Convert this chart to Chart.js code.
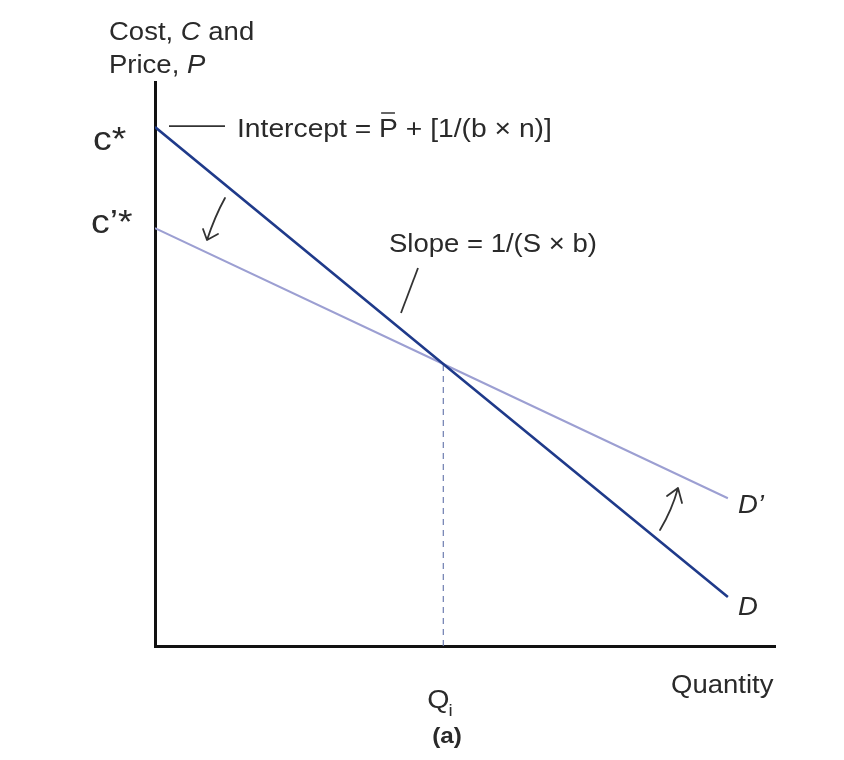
<!DOCTYPE html>
<html>
<head>
<meta charset="utf-8">
<script src="https://cdn.jsdelivr.net/npm/chart.js@4.4.1/dist/chart.umd.min.js"></script>
<style>
  html, body { margin: 0; padding: 0; background: #fff; }
</style>
</head>
<body>
<canvas id="chart" width="844" height="760"></canvas>
<script>
// quantities along the x axis (0-100 scale) and the two demand lines
const quantities = [0, 46.5, 92.4];
const demandD = [92, 50, 8.7];
const demandDPrime = [74.1, 50, 26.2];
const qiLine = [{ x: 46.5, y: 0 }, { x: 46.5, y: 50 }];
const seriesNames = ["D", "D’"];

const STRETCH = 1.1;
const SANS = "'Liberation Sans', Arial, sans-serif";

function drawRuns(ctx, parts, x, y) {
    // parts: [{t, font}] drawn one after the other
    let cx = x;
    parts.forEach(p => {
        ctx.save();
        ctx.font = p.font;
        const w = ctx.measureText(p.t).width * (p.sx || STRETCH);
        ctx.translate(cx, y);
        ctx.scale(p.sx || STRETCH, 1);
        ctx.fillText(p.t, 0, 0);
        ctx.restore();
        p.x0 = cx;
        p.w = w;
        cx += w;
    });
    return cx;
}

function arrow(ctx, sx, sy, cx, cy, ex, ey, b1, b2) {
    ctx.beginPath();
    ctx.moveTo(sx, sy);
    ctx.quadraticCurveTo(cx, cy, ex, ey);
    ctx.moveTo(b1[0], b1[1]);
    ctx.lineTo(ex, ey);
    ctx.lineTo(b2[0], b2[1]);
    ctx.stroke();
}

const annotations = {
    id: "annotations",
    afterDatasetsDraw(chart) {
        const ctx = chart.ctx;
        const xs = chart.scales.x;
        const ys = chart.scales.y;
        ctx.save();
        ctx.fillStyle = "#2a2a2a";
        ctx.strokeStyle = "#333";
        ctx.textBaseline = "alphabetic";

        // y axis title
        const reg = "25px " + SANS;
        const ita = "italic 25px " + SANS;
        drawRuns(ctx, [{ t: "Cost, ", font: reg }, { t: "C", font: ita }, { t: " and", font: reg }], 109, 40);
        drawRuns(ctx, [{ t: "Price, ", font: reg }, { t: "P", font: ita }], 109, 73);

        // c* and c'* labels at the two intercepts
        const big = "34px " + SANS;
        const yD0 = ys.getPixelForValue(demandD[0]);
        const yDP0 = ys.getPixelForValue(demandDPrime[0]);
        drawRuns(ctx, [{ t: "c*", font: big }], 93, yD0 + 23);
        drawRuns(ctx, [{ t: "c’*", font: big }], 91, yDP0 + 5);

        // intercept leader and label
        ctx.lineWidth = 1.8;
        ctx.beginPath();
        ctx.moveTo(169, yD0 - 1);
        ctx.lineTo(225, yD0 - 1);
        ctx.stroke();
        const parts = [
            { t: "Intercept = ", font: reg, sx: 1.13 },
            { t: "P", font: reg, sx: 1.13 },
            { t: " + [1/(b × n)]", font: reg, sx: 1.13 }
        ];
        drawRuns(ctx, parts, 237, 137);
        ctx.lineWidth = 1.5;
        ctx.beginPath();
        ctx.moveTo(parts[1].x0 + 2, 113);
        ctx.lineTo(parts[1].x0 + parts[1].w - 3, 113);
        ctx.stroke();

        // slope label and leader
        drawRuns(ctx, [{ t: "Slope = 1/(S × b)", font: reg }], 389, 252);
        ctx.lineWidth = 1.8;
        ctx.beginPath();
        ctx.moveTo(418, 268);
        ctx.lineTo(401, 313);
        ctx.stroke();

        // rotation arrows
        ctx.lineWidth = 1.8;
        ctx.lineCap = "round";
        ctx.lineJoin = "round";
        arrow(ctx, 225, 198, 215, 216, 207, 240, [203, 229], [218, 234]);
        arrow(ctx, 660, 530, 672, 510, 678, 488, [667, 496], [682, 503]);

        // series labels at the line ends
        const n = quantities.length - 1;
        const xe = xs.getPixelForValue(quantities[n]);
        drawRuns(ctx, [{ t: seriesNames[1], font: ita }], xe + 10, ys.getPixelForValue(demandDPrime[n]) + 15);
        drawRuns(ctx, [{ t: seriesNames[0], font: ita }], xe + 10, ys.getPixelForValue(demandD[n]) + 18);

        // axis labels
        drawRuns(ctx, [{ t: "Quantity", font: reg }], 671, 693);
        const qx = xs.getPixelForValue(qiLine[0].x);
        const end = drawRuns(ctx, [{ t: "Q", font: "26px " + SANS }], qx - 16, 708);
        drawRuns(ctx, [{ t: "i", font: "17px " + SANS }], end - 1, 716);
        drawRuns(ctx, [{ t: "(a)", font: "bold 22px " + SANS }], qx - 11, 743);

        ctx.restore();
    }
};

const ctx = document.getElementById("chart");

new Chart(ctx, {
    type: "scatter",
    data: {
        datasets: [
            {
                label: seriesNames[0],
                data: quantities.map((q, i) => ({ x: q, y: demandD[i] })),
                showLine: true,
                borderColor: "#1f3a8a",
                borderWidth: 2.6,
                pointRadius: 0
            },
            {
                label: seriesNames[1],
                data: quantities.map((q, i) => ({ x: q, y: demandDPrime[i] })),
                showLine: true,
                borderColor: "#9c9fd2",
                borderWidth: 2,
                pointRadius: 0
            },
            {
                label: "Qi",
                data: qiLine,
                showLine: true,
                borderColor: "#6d7db0",
                borderWidth: 1.2,
                borderDash: [6, 5],
                pointRadius: 0
            }
        ]
    },
    options: {
        responsive: false,
        animation: false,
        layout: { padding: { left: 155, right: 69, top: 82, bottom: 114 } },
        plugins: {
            legend: { display: false },
            tooltip: { enabled: false }
        },
        scales: {
            x: {
                type: "linear",
                min: 0,
                max: 100,
                grid: { display: false, drawTicks: false },
                ticks: { display: false },
                border: { display: true, color: "#111", width: 3 }
            },
            y: {
                type: "linear",
                min: 0,
                max: 100,
                grid: { display: false, drawTicks: false },
                ticks: { display: false },
                border: { display: true, color: "#111", width: 3 }
            }
        }
    },
    plugins: [annotations]
});
</script>
</body>
</html>
